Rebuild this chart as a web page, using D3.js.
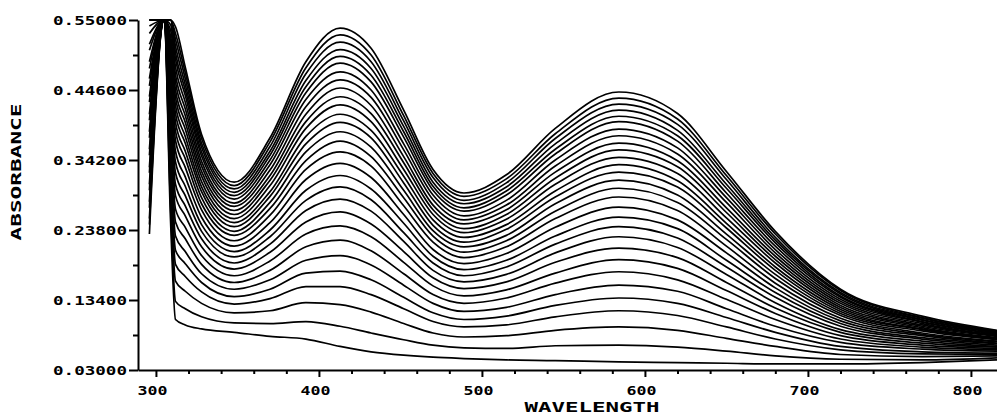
<!DOCTYPE html>
<html>
<head>
<meta charset="utf-8">
<script src="https://cdn.jsdelivr.net/npm/d3@7"></script>
<style>
  html, body { margin: 0; padding: 0; background: #fff; }
  svg { display: block; }
  .tick text { font-family: "DejaVu Sans Mono", monospace; font-weight: bold; font-size: 13px; fill: #000; }
  .axis-title { font-family: "DejaVu Sans Mono", monospace; font-weight: bold; fill: #000; }
</style>
</head>
<body>
<svg id="chart" width="997" height="416"></svg>
<script>
// chart.js

const wavelengths = [296, 305, 309, 312, 318, 328, 348, 370, 392, 413, 432, 452, 470, 489, 515, 545, 584, 620, 650, 680, 720, 770, 816];

// Absorbance rows: one row per wavelength, one column per scan (lowest scan first)
const absorbance = [
  [0.232,0.246,0.255,0.271,0.280,0.297,0.306,0.323,0.331,0.349,0.358,0.375,0.384,0.401,0.410,0.428,0.436,0.452,0.463,0.478,0.488,0.505,0.514,0.530,0.541,0.556,0.566,0.582,0.594], // 296
  [0.600,0.600,0.600,0.600,0.600,0.600,0.600,0.600,0.600,0.600,0.600,0.600,0.600,0.600,0.600,0.600,0.600,0.600,0.600,0.600,0.600,0.600,0.600,0.600,0.600,0.600,0.600,0.600,0.600], // 305
  [0.250,0.271,0.293,0.312,0.328,0.344,0.360,0.375,0.389,0.403,0.415,0.427,0.439,0.452,0.463,0.472,0.482,0.491,0.500,0.509,0.518,0.526,0.535,0.543,0.551,0.558,0.565,0.573,0.580], // 309
  [0.105,0.132,0.162,0.187,0.208,0.229,0.250,0.269,0.289,0.306,0.323,0.339,0.355,0.371,0.385,0.398,0.411,0.423,0.435,0.446,0.458,0.469,0.480,0.492,0.501,0.511,0.521,0.530,0.540], // 312
  [0.097,0.121,0.147,0.169,0.188,0.206,0.225,0.242,0.259,0.274,0.289,0.303,0.317,0.331,0.344,0.355,0.367,0.377,0.388,0.398,0.408,0.418,0.428,0.438,0.446,0.454,0.463,0.472,0.480], // 318
  [0.091,0.109,0.129,0.146,0.160,0.173,0.187,0.200,0.213,0.225,0.236,0.246,0.257,0.268,0.277,0.286,0.295,0.302,0.310,0.318,0.325,0.333,0.340,0.348,0.354,0.361,0.367,0.374,0.380], // 328
  [0.086,0.100,0.115,0.128,0.139,0.150,0.160,0.170,0.180,0.189,0.198,0.206,0.214,0.222,0.230,0.236,0.243,0.249,0.255,0.261,0.267,0.273,0.278,0.284,0.289,0.294,0.299,0.304,0.309], // 348
  [0.080,0.099,0.118,0.136,0.150,0.164,0.178,0.192,0.205,0.217,0.228,0.238,0.249,0.260,0.270,0.279,0.288,0.295,0.304,0.312,0.319,0.327,0.335,0.342,0.349,0.355,0.362,0.369,0.375], // 370
  [0.076,0.102,0.130,0.154,0.174,0.193,0.213,0.232,0.250,0.267,0.282,0.297,0.313,0.328,0.341,0.354,0.366,0.377,0.389,0.399,0.410,0.421,0.432,0.442,0.451,0.460,0.470,0.479,0.488], // 392
  [0.065,0.095,0.127,0.154,0.177,0.200,0.223,0.244,0.265,0.284,0.302,0.319,0.337,0.354,0.370,0.384,0.398,0.410,0.424,0.436,0.449,0.461,0.473,0.486,0.496,0.506,0.517,0.528,0.538], // 413
  [0.057,0.085,0.116,0.142,0.164,0.186,0.207,0.228,0.247,0.266,0.283,0.299,0.316,0.333,0.347,0.361,0.375,0.386,0.399,0.411,0.423,0.435,0.446,0.458,0.468,0.478,0.488,0.498,0.508], // 432
  [0.052,0.075,0.099,0.121,0.138,0.156,0.173,0.190,0.206,0.221,0.234,0.248,0.261,0.274,0.286,0.297,0.308,0.318,0.328,0.338,0.347,0.357,0.366,0.376,0.384,0.392,0.400,0.408,0.416], // 452
  [0.049,0.067,0.085,0.102,0.115,0.129,0.142,0.155,0.167,0.178,0.189,0.199,0.209,0.220,0.229,0.237,0.245,0.253,0.261,0.268,0.275,0.283,0.290,0.297,0.303,0.309,0.316,0.322,0.328], // 470
  [0.047,0.063,0.079,0.094,0.105,0.117,0.129,0.140,0.151,0.161,0.170,0.179,0.188,0.197,0.205,0.213,0.220,0.227,0.234,0.240,0.247,0.253,0.259,0.266,0.271,0.277,0.282,0.288,0.293], // 489
  [0.045,0.062,0.081,0.097,0.110,0.123,0.137,0.149,0.161,0.172,0.183,0.193,0.203,0.213,0.222,0.230,0.239,0.246,0.254,0.261,0.268,0.275,0.282,0.290,0.296,0.302,0.308,0.314,0.320], // 515
  [0.044,0.066,0.089,0.109,0.126,0.142,0.159,0.174,0.190,0.204,0.217,0.229,0.242,0.255,0.266,0.277,0.287,0.296,0.306,0.315,0.324,0.333,0.342,0.351,0.358,0.366,0.374,0.381,0.389], // 545
  [0.042,0.067,0.094,0.118,0.137,0.156,0.176,0.194,0.211,0.228,0.243,0.257,0.272,0.287,0.300,0.312,0.324,0.335,0.346,0.357,0.367,0.378,0.388,0.399,0.407,0.416,0.425,0.434,0.443], // 584
  [0.041,0.064,0.089,0.111,0.129,0.147,0.164,0.181,0.197,0.212,0.226,0.240,0.253,0.267,0.279,0.290,0.302,0.311,0.322,0.332,0.341,0.351,0.360,0.370,0.378,0.386,0.395,0.403,0.411], // 620
  [0.040,0.058,0.077,0.094,0.108,0.121,0.135,0.148,0.160,0.172,0.183,0.193,0.204,0.214,0.224,0.232,0.241,0.248,0.256,0.264,0.271,0.279,0.286,0.293,0.300,0.306,0.313,0.319,0.325], // 650
  [0.039,0.051,0.065,0.076,0.086,0.095,0.105,0.114,0.122,0.130,0.138,0.145,0.152,0.159,0.166,0.172,0.178,0.183,0.189,0.194,0.199,0.204,0.209,0.214,0.219,0.223,0.227,0.232,0.236], // 680
  [0.039,0.046,0.053,0.060,0.065,0.071,0.076,0.081,0.086,0.090,0.095,0.099,0.103,0.107,0.111,0.114,0.117,0.120,0.123,0.126,0.129,0.132,0.135,0.138,0.140,0.143,0.145,0.148,0.150], // 720
  [0.041,0.045,0.050,0.054,0.057,0.061,0.064,0.067,0.070,0.073,0.076,0.078,0.081,0.083,0.085,0.088,0.090,0.091,0.093,0.095,0.097,0.099,0.101,0.102,0.104,0.105,0.107,0.108,0.110], // 770
  [0.045,0.048,0.051,0.053,0.055,0.058,0.060,0.062,0.064,0.065,0.067,0.069,0.070,0.072,0.073,0.075,0.076,0.077,0.078,0.080,0.081,0.082,0.083,0.084,0.085,0.086,0.087,0.088,0.089]  // 816
];

// Axis ticks
const xTicks = [300, 400, 500, 600, 700, 800];
const xMinorTicks = [320, 340, 360, 380, 420, 440, 460, 480, 520, 540, 560, 580, 620, 640, 660, 680, 720, 740, 760, 780];
const yTicks = [0.03, 0.134, 0.238, 0.342, 0.446, 0.55];
const yMinorTicks = [0.082, 0.186, 0.29, 0.394, 0.498];

const svg = d3.select('#chart');

// Scales (values above the top are pinned to the frame, like the plotter did)
const x = d3.scaleLinear().domain([289, 816]).range([138, 997]);
const y = d3.scaleLinear().domain([0.03, 0.55]).range([370, 20]).clamp(true);

// One series per scan, built from the rows
const scanCount = absorbance[0].length;
const scans = d3.range(scanCount).map(k => wavelengths.map((w, i) => [w, absorbance[i][k]]));

const line = d3.line()
  .x(d => x(d[0]))
  .y(d => y(d[1]))
  .curve(d3.curveMonotoneX);

svg.append('g')
  .selectAll('path')
  .data(scans)
  .join('path')
  .attr('d', line)
  .attr('fill', 'none')
  .attr('stroke', '#000')
  .attr('stroke-width', 1.7)
  .attr('stroke-linejoin', 'round');

// X axis: minor then major ticks
svg.append('g')
  .attr('transform', 'translate(0,370)')
  .call(d3.axisBottom(x).tickValues(xMinorTicks).tickSize(4).tickSizeOuter(0).tickFormat(''))
  .call(g => g.select('.domain').remove());

const xAxis = svg.append('g')
  .attr('transform', 'translate(0,370)')
  .call(d3.axisBottom(x).tickValues(xTicks).tickSize(7).tickSizeOuter(0).tickFormat(d3.format('d')));

xAxis.selectAll('.tick text')
  .attr('y', 25)
  .attr('dy', 0)
  .attr('dx', -4)
  .attr('textLength', 30)
  .attr('lengthAdjust', 'spacingAndGlyphs');

// Y axis: minor then major ticks
svg.append('g')
  .attr('transform', 'translate(138,0)')
  .call(d3.axisLeft(y).tickValues(yMinorTicks).tickSize(5).tickSizeOuter(0).tickFormat(''))
  .call(g => g.select('.domain').remove());

const yAxis = svg.append('g')
  .attr('transform', 'translate(138,0)')
  .call(d3.axisLeft(y).tickValues(yTicks).tickSize(9).tickSizeOuter(0).tickFormat(d3.format('.5f')));

yAxis.selectAll('.tick text')
  .attr('x', -11)
  .attr('dy', '0.36em')
  .attr('textLength', 74)
  .attr('lengthAdjust', 'spacingAndGlyphs');

svg.selectAll('.domain, .tick line')
  .attr('stroke', '#000')
  .attr('stroke-width', 2);

// Axis titles
svg.append('text')
  .attr('class', 'axis-title')
  .attr('transform', 'translate(21,172) rotate(-90)')
  .attr('text-anchor', 'middle')
  .attr('font-size', 14)
  .attr('textLength', 137)
  .attr('lengthAdjust', 'spacingAndGlyphs')
  .text('ABSORBANCE');

svg.append('text')
  .attr('class', 'axis-title')
  .attr('x', 592)
  .attr('y', 412)
  .attr('text-anchor', 'middle')
  .attr('font-size', 14)
  .attr('textLength', 135)
  .attr('lengthAdjust', 'spacingAndGlyphs')
  .text('WAVELENGTH');
</script>
</body>
</html>
